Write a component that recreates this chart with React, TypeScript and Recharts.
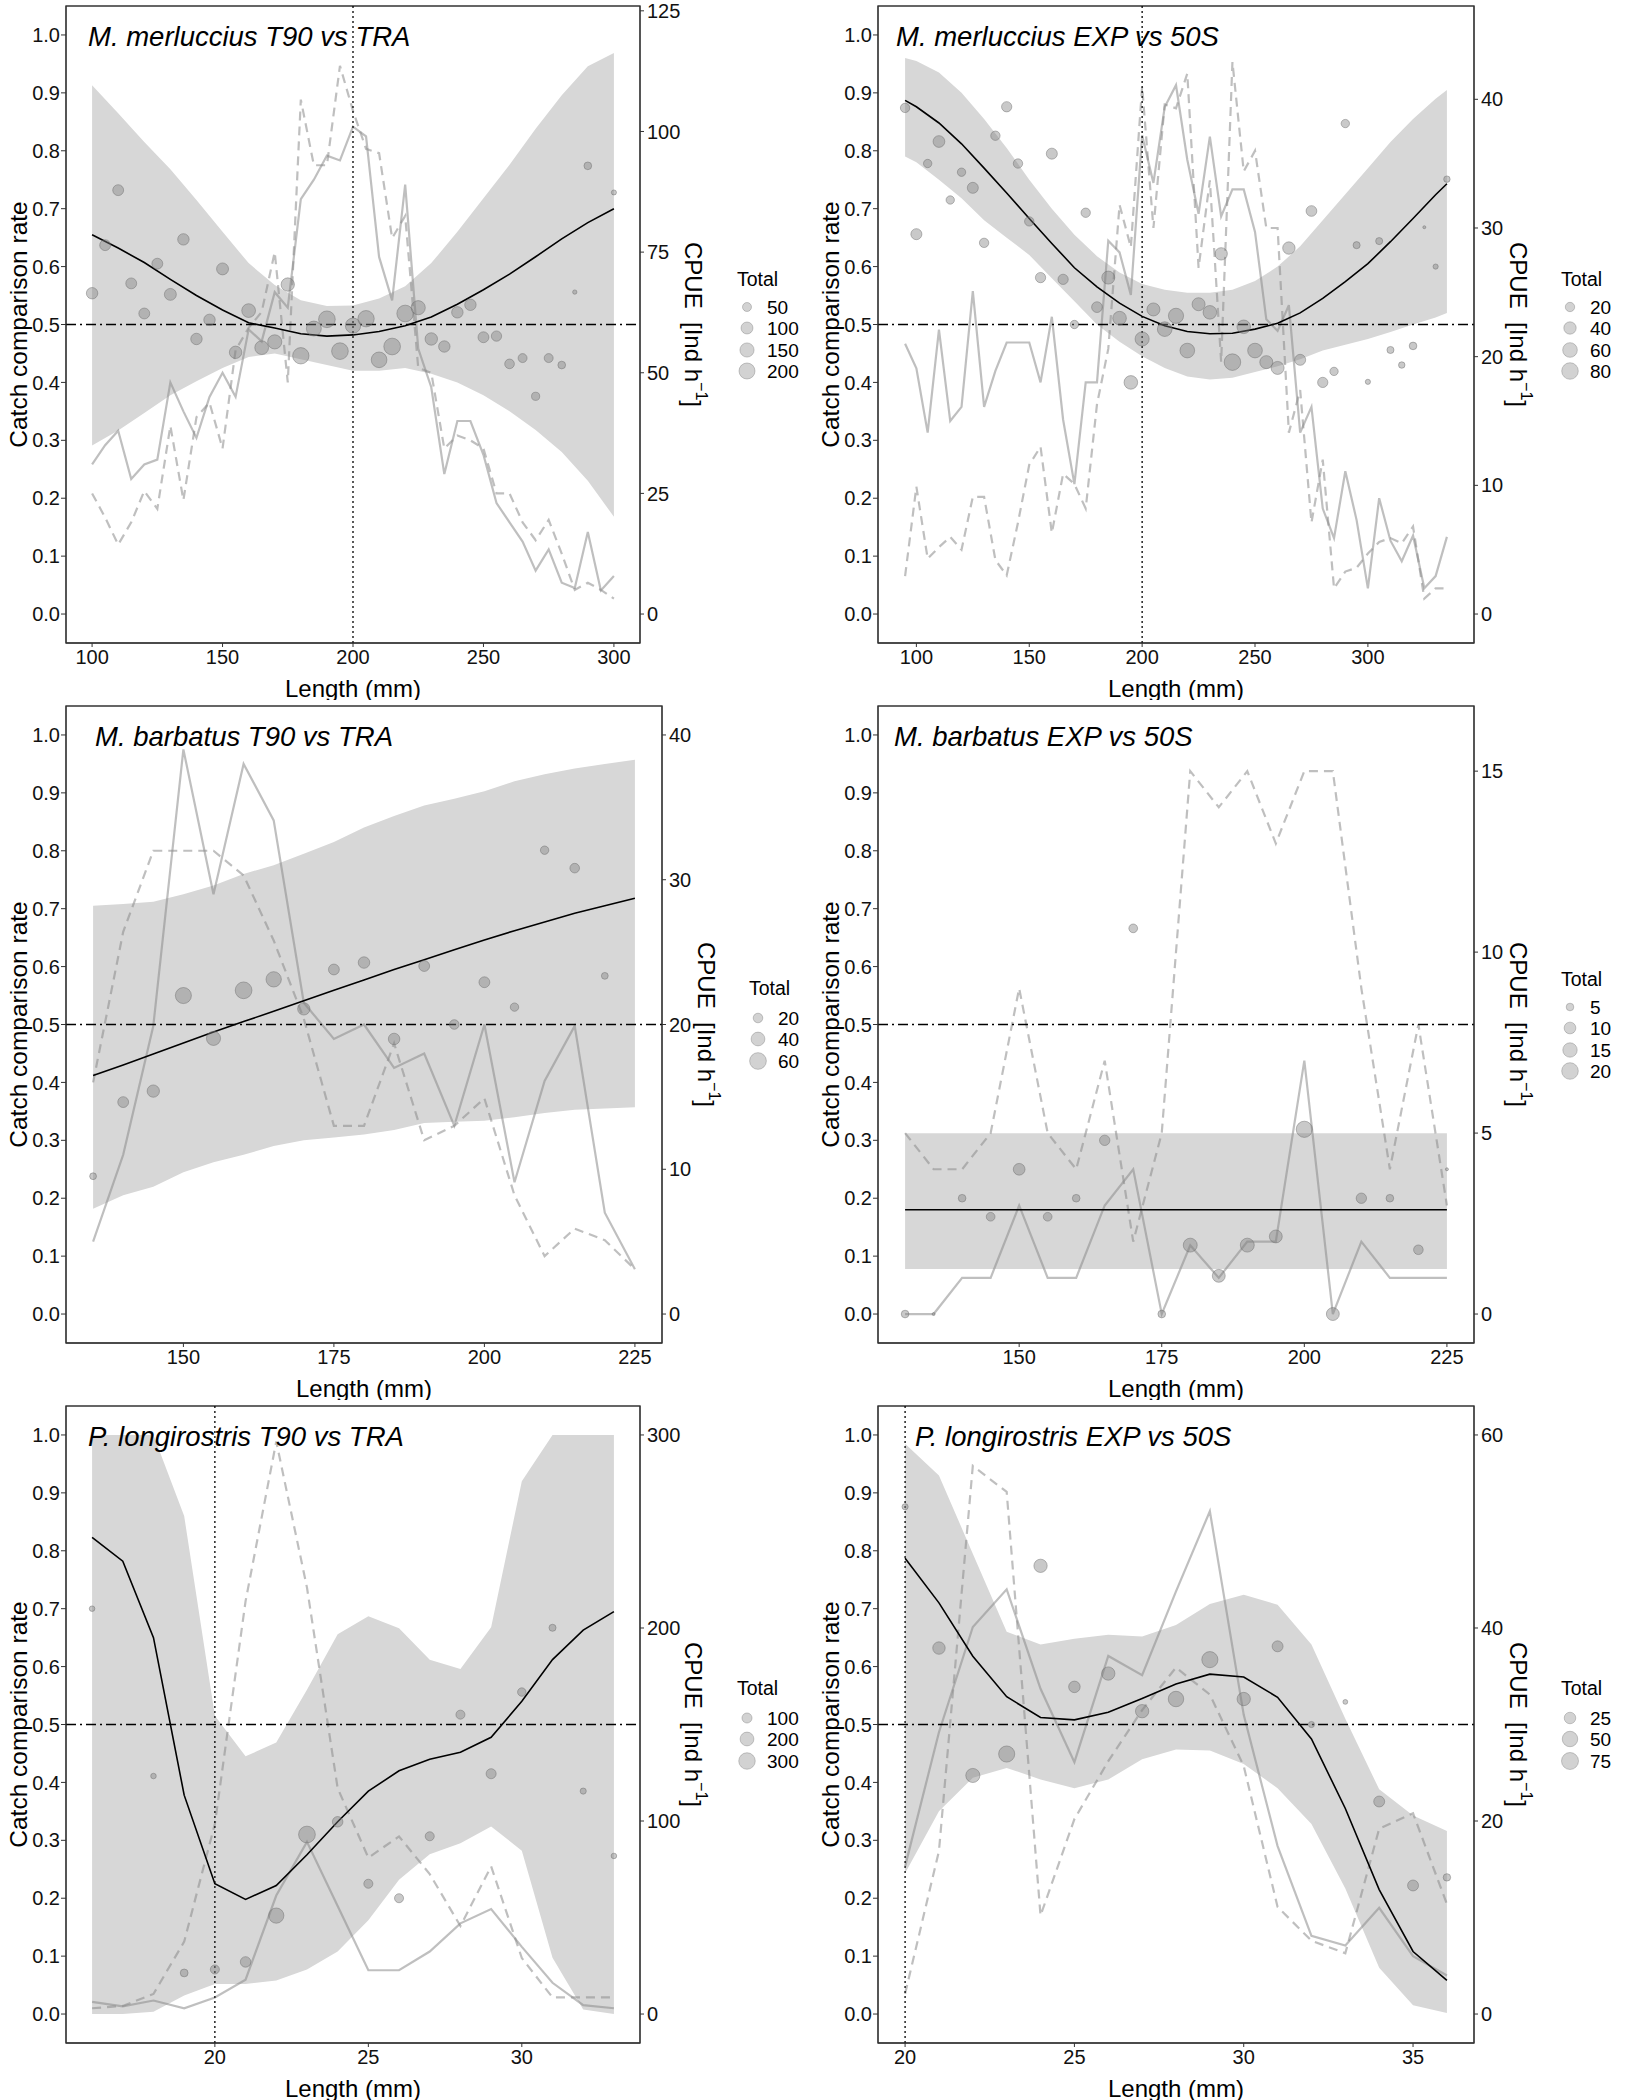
import React from 'react';
import {
  ComposedChart, Area, Line, Scatter, XAxis, YAxis, ReferenceLine, ReferenceArea,
} from 'recharts';

const FONT = '"Liberation Sans", Arial, Helvetica, sans-serif';

// ---------- Panel 1: M. merluccius T90 vs TRA ----------
const p1Lengths = [100,105,110,115,120,125,130,135,140,145,150,155,160,165,170,175,180,185,190,195,200,205,210,215,220,225,230,235,240,245,250,255,260,265,270,275,280,285,290,295,300];
const p1Solid = [31,35,38,28,31,32,48,42,36.5,45,50,45,59,56.5,66.7,63.5,86,90,95,94,101,99,74,65,89,55,47,29,40,40,33,23,19,15,9,13.4,6.5,5.4,17,4.9,7.9];
const p1Dashed = [25,20,14.4,19,25.5,21.8,39,23.6,40.8,43.8,34.3,54.7,59.3,62.6,75,48,106.6,93,93,113.6,104.3,96.4,95.5,77.9,82.5,51,50,34.3,37,36,34.3,25,25,19,15.3,19.5,12.5,5,6.5,5,3.2];
const p1FitLengths = [100,110,120,130,140,150,160,170,180,190,200,210,220,230,240,250,260,270,280,290,300];
const p1Fit = [0.655,0.632,0.607,0.578,0.55,0.525,0.503,0.494,0.484,0.48,0.482,0.488,0.498,0.513,0.535,0.56,0.587,0.617,0.648,0.676,0.7];
const p1Upper = [0.913,0.865,0.815,0.768,0.715,0.66,0.606,0.568,0.542,0.532,0.533,0.545,0.566,0.606,0.66,0.718,0.776,0.838,0.896,0.946,0.969];
const p1Lower = [0.291,0.317,0.347,0.378,0.402,0.425,0.444,0.45,0.44,0.43,0.42,0.42,0.425,0.415,0.4,0.378,0.35,0.318,0.28,0.23,0.168];
const p1PointLengths = [100,105,110,115,120,125,130,135,140,145,150,155,160,165,170,175,180,185,190,195,200,205,210,215,220,225,230,235,240,245,250,255,260,265,270,275,280,285,290,300];
const p1PointRates = [0.554,0.637,0.732,0.571,0.519,0.605,0.552,0.647,0.475,0.508,0.596,0.452,0.524,0.46,0.47,0.569,0.446,0.493,0.509,0.454,0.498,0.51,0.439,0.462,0.519,0.529,0.475,0.462,0.521,0.534,0.478,0.48,0.432,0.442,0.376,0.442,0.43,0.556,0.774,0.728];
const p1PointTotals = [90,80,80,80,80,80,100,90,90,90,100,110,140,140,150,130,210,170,220,220,180,210,190,220,220,150,110,90,90,90,80,70,60,50,40,50,35,12,35,15];

// ---------- Panel 2: M. merluccius EXP vs 50S ----------
const p2Lengths = [95,100,105,110,115,120,125,130,135,140,145,150,155,160,165,170,175,180,185,190,195,200,205,210,215,220,225,230,235,240,245,250,255,260,265,270,275,280,285,290,295,300,305,310,315,320,325,330,335];
const p2Solid = [21,19.1,14.1,22.1,15,16.1,25.1,16.1,18.9,21.1,21.1,21.1,18,23.1,15.1,10.1,18,18,29,28.1,24.8,37.2,33.5,39.4,41.1,35.3,31.1,37.1,30.9,33,33,29.7,22.9,22,24,14.1,16.1,8.2,5.9,11.1,7.3,2,9,5.7,4.1,6.1,2,2.95,6];
const p2Dashed = [2.95,9.9,4.3,5.2,6,5,9.1,9.1,4.2,3,7.1,11.6,13,6.3,10.9,10.1,8.2,16.3,20.6,31.8,28.5,41,30,39.6,39.3,42,26.9,33.7,19.6,42.9,34.4,36,30,30,14.1,17.4,7.1,12,2,3.3,3.6,4.7,5.6,5.9,5.5,6.8,1.2,2,2];
const p2FitLengths = [95,100,110,120,130,140,150,160,170,180,190,200,210,220,230,240,250,260,270,280,290,300,310,320,330,335];
const p2Fit = [0.887,0.876,0.848,0.812,0.77,0.727,0.683,0.64,0.598,0.565,0.537,0.514,0.498,0.488,0.484,0.485,0.492,0.502,0.52,0.545,0.574,0.605,0.643,0.683,0.724,0.743];
const p2Upper = [0.96,0.955,0.935,0.9,0.855,0.805,0.75,0.7,0.655,0.618,0.59,0.57,0.56,0.555,0.555,0.56,0.575,0.6,0.635,0.68,0.725,0.77,0.815,0.855,0.89,0.905];
const p2Lower = [0.79,0.78,0.75,0.718,0.68,0.65,0.62,0.58,0.54,0.5,0.47,0.445,0.425,0.41,0.405,0.408,0.418,0.428,0.44,0.455,0.465,0.475,0.487,0.5,0.512,0.52];
const p2PointLengths = p2Lengths;
const p2PointRates = [0.874,0.656,0.778,0.816,0.715,0.763,0.736,0.641,0.826,0.876,0.778,0.678,0.581,0.795,0.578,0.5,0.693,0.53,0.581,0.511,0.4,0.475,0.526,0.492,0.515,0.455,0.535,0.521,0.622,0.435,0.496,0.455,0.435,0.425,0.632,0.439,0.696,0.4,0.419,0.847,0.637,0.401,0.644,0.456,0.43,0.463,0.668,0.6,0.751];
const p2PointTotals = [20,30,15,35,15,15,30,20,20,25,20,20,25,30,25,15,20,28,45,50,50,55,45,60,65,60,45,50,40,80,50,60,45,45,40,30,28,25,15,15,10,5,10,10,8,12,3,5,8];

// ---------- Panel 3: M. barbatus T90 vs TRA ----------
const p3Lengths = [135,140,145,150,155,160,165,170,175,180,185,190,195,200,205,210,215,220,225];
const p3Solid = [5,11,19.9,39,29,38,34.1,21.5,19,20,17,18,13,20,9.1,16.1,19.9,7,3.1];
const p3Dashed = [16,26.4,32,32,32,30.3,25.8,20.4,13,13,18.7,12,13,14.9,8.2,4,5.9,5.1,3.1];
const p3FitLengths = p3Lengths;
const p3Fit = [0.412,0.43,0.449,0.468,0.487,0.505,0.523,0.541,0.559,0.577,0.595,0.612,0.629,0.646,0.662,0.677,0.692,0.705,0.718];
const p3Upper = [0.705,0.708,0.712,0.725,0.74,0.76,0.775,0.795,0.815,0.84,0.86,0.878,0.89,0.903,0.92,0.932,0.942,0.95,0.957];
const p3Lower = [0.182,0.205,0.22,0.245,0.262,0.275,0.29,0.3,0.305,0.31,0.318,0.33,0.332,0.334,0.34,0.347,0.353,0.355,0.357];
const p3PointLengths = [135,140,145,150,155,160,165,170,175,180,185,190,195,200,205,210,215,220];
const p3PointRates = [0.238,0.366,0.385,0.55,0.476,0.559,0.578,0.527,0.595,0.607,0.475,0.601,0.5,0.573,0.53,0.801,0.77,0.584];
const p3PointTotals = [12,25,32,55,42,60,50,32,25,28,28,25,20,25,16,16,20,12];

// ---------- Panel 4: M. barbatus EXP vs 50S ----------
const p4Lengths = [130,135,140,145,150,155,160,165,170,175,180,185,190,195,200,205,210,215,220,225];
const p4Solid = [0,0,1,1,3,1,1,3,4,0,1.9,1,2,2,7,0,2,1,1,1];
const p4Dashed = [5,4,4,5,9,5,4,7,2,5,15,14,15,13,15,15,9,4,8,3];
const p4FitLengths = [130,225];
const p4Fit = [0.18,0.18];
const p4Upper = [0.312,0.312];
const p4Lower = [0.078,0.078];
const p4PointLengths = p4Lengths;
const p4PointRates = [0,0,0.2,0.168,0.25,0.168,0.2,0.3,0.666,0,0.119,0.066,0.119,0.134,0.319,0,0.2,0.2,0.111,0.25];
const p4PointTotals = [5,3,5,6,10,6,5,8,6,5,14,12,14,12,19,12,8,5,7,3];

// ---------- Panel 5: P. longirostris T90 vs TRA ----------
const p5Lengths = [16,17,18,19,20,21,22,23,24,25,26,27,28,29,30,31,32,33];
const p5Solid = [6.3,4,7,3,8.6,17.8,61.4,89.2,56,22.7,22.7,32.4,47,54.4,34.8,16.2,4.6,3];
const p5Dashed = [3,4.2,10.4,37.5,98.5,213.9,296.6,221,117,81,92,72.5,45.6,76.5,29,8.6,8.6,8.6];
const p5FitLengths = p5Lengths;
const p5Fit = [0.823,0.782,0.65,0.378,0.225,0.198,0.222,0.275,0.332,0.385,0.42,0.44,0.452,0.478,0.54,0.612,0.663,0.695];
const p5Upper = [1,1,1,0.86,0.515,0.445,0.469,0.56,0.656,0.687,0.666,0.612,0.596,0.668,0.92,1,1,1];
const p5Lower = [0,0,0.004,0.032,0.052,0.052,0.058,0.077,0.108,0.162,0.232,0.276,0.295,0.324,0.282,0.097,0.008,0];
const p5PointLengths = [16,18,19,20,21,22,23,24,25,26,27,28,29,30,31,32,33];
const p5PointRates = [0.7,0.411,0.071,0.077,0.09,0.17,0.31,0.332,0.225,0.2,0.307,0.517,0.415,0.556,0.667,0.385,0.273];
const p5PointTotals = [35,35,60,80,110,250,310,110,80,80,80,80,100,70,50,40,35];

// ---------- Panel 6: P. longirostris EXP vs 50S ----------
const p6Lengths = [20,21,22,23,24,25,26,27,28,29,30,31,32,33,34,35,36];
const p6Solid = [15.3,29.2,40.1,44,33.7,26.1,37.1,35.1,43.8,52.1,31,17.4,8.1,7.1,11,6,4];
const p6Dashed = [2.1,16.9,56.8,54.1,10.2,20.2,26.2,31.5,35.9,33.1,25.7,11.1,7.6,6.3,19.2,20.8,11.4];
const p6FitLengths = p6Lengths;
const p6Fit = [0.787,0.71,0.618,0.548,0.512,0.508,0.521,0.545,0.57,0.587,0.582,0.547,0.475,0.355,0.215,0.108,0.058];
const p6Upper = [0.985,0.93,0.795,0.66,0.638,0.648,0.655,0.652,0.672,0.708,0.724,0.707,0.638,0.51,0.388,0.343,0.316];
const p6Lower = [0.243,0.35,0.408,0.425,0.405,0.39,0.405,0.44,0.457,0.455,0.432,0.39,0.328,0.217,0.08,0.015,0.002];
const p6PointLengths = p6Lengths;
const p6PointRates = [0.876,0.632,0.412,0.449,0.774,0.565,0.588,0.523,0.544,0.612,0.544,0.635,0.5,0.539,0.367,0.222,0.236];
const p6PointTotals = [6,30,40,55,35,25,35,35,50,55,35,22,6,4,22,22,9];

// ---------- axis ticks ----------
const rateTicks = [0, 0.1, 0.2, 0.3, 0.4, 0.5, 0.6, 0.7, 0.8, 0.9, 1.0];

type PanelCfg = {
  title: string;
  left: number; top: number;
  lengths: number[]; solid: number[]; dashed: number[];
  fitLengths: number[]; fit: number[]; lower: number[]; upper: number[];
  pointLengths: number[]; pointRates: number[]; pointTotals: number[];
  xDomain: [number, number]; xTicks: number[];
  cpueMax: number; cpueTicks: number[];
  vline: number | null;
  zRange: [number, number]; legendValues: number[];
  rightW: number; rightM: number; rightTitleX: number; titleX: number;
  legTitleX: number; legCircleX: number; legLabelX: number; legTitleY: number; legRows: number[];
};

const ROWS4 = [307, 328, 350, 371];
const ROWS3 = [318, 339, 361];

const LEFT_COL = { rightW: 52, rightM: 120, rightTitleX: 693, legTitleX: 737, legCircleX: 747, legLabelX: 767 };
const RIGHT_COL = { rightW: 42, rightM: 108, rightTitleX: 706, legTitleX: 749, legCircleX: 758, legLabelX: 778 };

const panels: PanelCfg[] = [
  { title: 'M. merluccius T90 vs TRA', left: 0, top: 0,
    lengths: p1Lengths, solid: p1Solid, dashed: p1Dashed, fitLengths: p1FitLengths, fit: p1Fit, lower: p1Lower, upper: p1Upper,
    pointLengths: p1PointLengths, pointRates: p1PointRates, pointTotals: p1PointTotals,
    xDomain: [90, 310], xTicks: [100, 150, 200, 250, 300], cpueMax: 120, cpueTicks: [0, 25, 50, 75, 100, 125], vline: 200,
    zRange: [10, 230], legendValues: [50, 100, 150, 200], ...LEFT_COL, titleX: 88,
    legTitleY: 279, legRows: ROWS4 },
  { title: 'M. merluccius EXP vs 50S', left: 812, top: 0,
    lengths: p2Lengths, solid: p2Solid, dashed: p2Dashed, fitLengths: p2FitLengths, fit: p2Fit, lower: p2Lower, upper: p2Upper,
    pointLengths: p2PointLengths, pointRates: p2PointRates, pointTotals: p2PointTotals,
    xDomain: [83, 347], xTicks: [100, 150, 200, 250, 300], cpueMax: 45, cpueTicks: [0, 10, 20, 30, 40], vline: 200,
    zRange: [3, 85], legendValues: [20, 40, 60, 80], ...RIGHT_COL, titleX: 84,
    legTitleY: 279, legRows: ROWS4 },
  { title: 'M. barbatus T90 vs TRA', left: 0, top: 700,
    lengths: p3Lengths, solid: p3Solid, dashed: p3Dashed, fitLengths: p3FitLengths, fit: p3Fit, lower: p3Lower, upper: p3Upper,
    pointLengths: p3PointLengths, pointRates: p3PointRates, pointTotals: p3PointTotals,
    xDomain: [130.5, 229.5], xTicks: [150, 175, 200, 225], cpueMax: 40, cpueTicks: [0, 10, 20, 30, 40], vline: null,
    zRange: [8, 62], legendValues: [20, 40, 60], ...RIGHT_COL, titleX: 95,
    legTitleY: 288, legRows: ROWS3 },
  { title: 'M. barbatus EXP vs 50S', left: 812, top: 700,
    lengths: p4Lengths, solid: p4Solid, dashed: p4Dashed, fitLengths: p4FitLengths, fit: p4Fit, lower: p4Lower, upper: p4Upper,
    pointLengths: p4PointLengths, pointRates: p4PointRates, pointTotals: p4PointTotals,
    xDomain: [125.25, 229.75], xTicks: [150, 175, 200, 225], cpueMax: 16, cpueTicks: [0, 5, 10, 15], vline: null,
    zRange: [3, 21], legendValues: [5, 10, 15, 20], ...RIGHT_COL, titleX: 82,
    legTitleY: 279, legRows: ROWS4 },
  { title: 'P. longirostris T90 vs TRA', left: 0, top: 1400,
    lengths: p5Lengths, solid: p5Solid, dashed: p5Dashed, fitLengths: p5FitLengths, fit: p5Fit, lower: p5Lower, upper: p5Upper,
    pointLengths: p5PointLengths, pointRates: p5PointRates, pointTotals: p5PointTotals,
    xDomain: [15.15, 33.85], xTicks: [20, 25, 30], cpueMax: 300, cpueTicks: [0, 100, 200, 300], vline: 20,
    zRange: [25, 320], legendValues: [100, 200, 300], ...LEFT_COL, titleX: 88,
    legTitleY: 288, legRows: ROWS3 },
  { title: 'P. longirostris EXP vs 50S', left: 812, top: 1400,
    lengths: p6Lengths, solid: p6Solid, dashed: p6Dashed, fitLengths: p6FitLengths, fit: p6Fit, lower: p6Lower, upper: p6Upper,
    pointLengths: p6PointLengths, pointRates: p6PointRates, pointTotals: p6PointTotals,
    xDomain: [19.2, 36.8], xTicks: [20, 25, 30, 35], cpueMax: 60, cpueTicks: [0, 20, 40, 60], vline: 20,
    zRange: [3, 62], legendValues: [25, 50, 75], ...RIGHT_COL, titleX: 103,
    legTitleY: 288, legRows: ROWS3 },
];

const W = 812;
const H = 700;
const PLOT_TOP = 6;
const X_AXIS_H = 57;
const LEFT_AXIS_W = 66;
const R_MIN = 1.5;
const R_MAX = 8.5;

const POINT_FILL = '#7f7f7f';
const LINE_GREY = '#8a8a8a';
const BAND = '#d7d7d7';
const AXIS = '#333333';
const TEXT = '#111111';

function radius(total: number, z: [number, number]) {
  const t = Math.max(0, Math.min(1, (total - z[0]) / (z[1] - z[0])));
  return R_MIN + (R_MAX - R_MIN) * Math.sqrt(t);
}

function buildRows(p: PanelCfg) {
  const rows: any[] = p.lengths.map((x, i) => ({ x, solid: p.solid[i], dashed: p.dashed[i] }));
  p.fitLengths.forEach((x, i) => {
    const r = rows.find((row) => row.x === x);
    if (r) {
      r.fit = p.fit[i];
      r.band = [p.lower[i], p.upper[i]];
    }
  });
  return rows;
}

function Panel({ p }: { p: PanelCfg }) {
  const rows = buildRows(p);
  const points = p.pointLengths.map((x, i) => ({ x, rate: p.pointRates[i], total: p.pointTotals[i] }));
  const plotRight = W - p.rightM - p.rightW;
  const plotBottom = H - X_AXIS_H;
  const plotCenterX = (LEFT_AXIS_W + plotRight) / 2;
  const plotCenterY = (PLOT_TOP + plotBottom) / 2;

  const shape = (props: any) => {
    const { cx, cy } = props;
    if (cx == null || cy == null) return <g />;
    const total = props.payload?.total ?? props.total ?? 1;
    return (
      <circle cx={cx} cy={cy} r={radius(total, p.zRange)} fill={POINT_FILL} fillOpacity={0.42}
        stroke="#6a6a6a" strokeOpacity={0.45} strokeWidth={1} />
    );
  };

  const tickStyle = { fontSize: 20, fill: TEXT, fontFamily: FONT };

  return (
    <div style={{ position: 'absolute', left: p.left, top: p.top, width: W, height: H }}>
      <ComposedChart width={W} height={H} data={rows}
        margin={{ top: PLOT_TOP, right: p.rightM, bottom: 0, left: 0 }}>
        <XAxis dataKey="x" type="number" domain={p.xDomain} ticks={p.xTicks} allowDataOverflow
          interval={0} height={X_AXIS_H} tick={tickStyle} tickSize={4} tickMargin={3}
          tickLine={{ stroke: AXIS }} axisLine={{ stroke: AXIS }} />
        <YAxis yAxisId="left" type="number" domain={[-0.05, 1.05]} ticks={rateTicks} allowDataOverflow
          interval={0} width={LEFT_AXIS_W} tick={tickStyle} tickSize={5} tickMargin={1}
          tickFormatter={(v: number) => v.toFixed(1)} tickLine={{ stroke: AXIS }} axisLine={{ stroke: AXIS }} />
        <YAxis yAxisId="right" orientation="right" type="number"
          domain={[-0.05 * p.cpueMax, 1.05 * p.cpueMax]} ticks={p.cpueTicks} allowDataOverflow
          interval={0} width={p.rightW} tick={tickStyle} tickSize={4} tickMargin={3}
          tickLine={{ stroke: AXIS }} axisLine={{ stroke: AXIS }} />
        <Area yAxisId="left" dataKey="band" type="linear" fill={BAND} fillOpacity={1} stroke="none"
          connectNulls isAnimationActive={false} dot={false} activeDot={false} />
        <Scatter yAxisId="left" data={points} dataKey="rate" shape={shape} isAnimationActive={false} />
        <Line yAxisId="right" dataKey="solid" type="linear" stroke={LINE_GREY} strokeOpacity={0.55}
          strokeWidth={2.2} dot={false} activeDot={false} isAnimationActive={false} />
        <Line yAxisId="right" dataKey="dashed" type="linear" stroke={LINE_GREY} strokeOpacity={0.55}
          strokeWidth={2.2} strokeDasharray="9 6" dot={false} activeDot={false} isAnimationActive={false} />
        <Line yAxisId="left" dataKey="fit" type="linear" stroke="#000" strokeWidth={1.6}
          connectNulls dot={false} activeDot={false} isAnimationActive={false} />
        <ReferenceLine yAxisId="left" y={0.5} stroke="#000" strokeWidth={1.3} strokeDasharray="10 4 2 4" />
        {p.vline !== null && (
          <ReferenceLine yAxisId="left" x={p.vline} stroke="#000" strokeWidth={1.3} strokeDasharray="2 3" />
        )}
        <ReferenceArea yAxisId="left" x1={p.xDomain[0]} x2={p.xDomain[1]} y1={-0.05} y2={1.05}
          fill="none" fillOpacity={0} stroke={AXIS} strokeWidth={1.3} ifOverflow="visible" />
      </ComposedChart>
      <svg width={W} height={H} style={{ position: 'absolute', left: 0, top: 0, pointerEvents: 'none' }}
        fontFamily={FONT}>
        <text x={p.titleX} y={46} fontSize={27.5} fontStyle="italic" fill="#000">{p.title}</text>
        <text x={18} y={plotCenterY} fontSize={24.5} fill="#000" textAnchor="middle" dominantBaseline="central"
          transform={`rotate(-90 18 ${plotCenterY})`}>Catch comparison rate</text>
        <text x={plotCenterX} y={688} fontSize={24} fill="#000" textAnchor="middle"
          dominantBaseline="central">Length (mm)</text>
        <text x={p.rightTitleX} y={plotCenterY} fontSize={24} fill="#000" textAnchor="middle"
          dominantBaseline="central" transform={`rotate(90 ${p.rightTitleX} ${plotCenterY})`}>
          {'CPUE\u00a0\u00a0[Ind h'}<tspan dy={-9} fontSize={16}>−1</tspan><tspan dy={9}>]</tspan>
        </text>
        <text x={p.legTitleX} y={p.legTitleY} fontSize={19.5} fill="#000" dominantBaseline="central">Total</text>
        {p.legendValues.map((v, i) => (
          <g key={v}>
            <circle cx={p.legCircleX} cy={p.legRows[i]} r={radius(v, p.zRange)} fill={POINT_FILL} fillOpacity={0.35}
              stroke="#6a6a6a" strokeOpacity={0.35} strokeWidth={1} />
            <text x={p.legLabelX} y={p.legRows[i]} fontSize={19} fill="#000" dominantBaseline="central">{v}</text>
          </g>
        ))}
      </svg>
    </div>
  );
}

export default function App() {
  return (
    <div style={{ position: 'absolute', left: 0, top: 0, width: 1625, height: 2100, background: '#fff' }}>
      {panels.map((p) => <Panel key={p.title} p={p} />)}
    </div>
  );
}
